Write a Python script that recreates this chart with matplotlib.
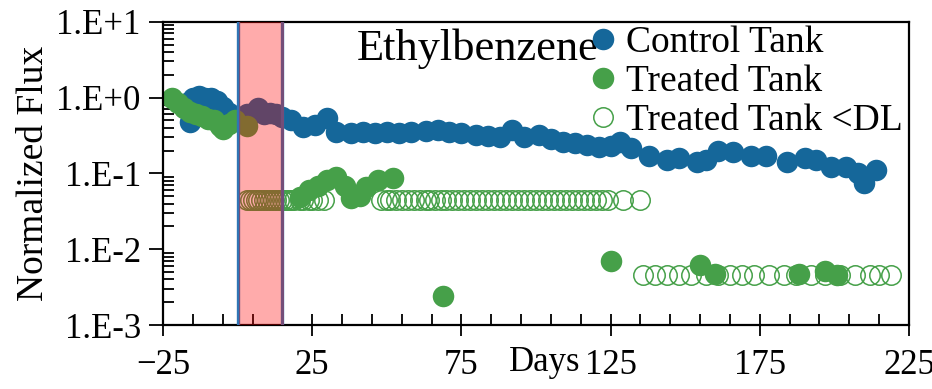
import matplotlib
matplotlib.use('Agg')
import matplotlib.pyplot as plt
from matplotlib.ticker import FuncFormatter, LogLocator, NullFormatter
import numpy as np

plt.rcParams['font.family'] = ['Liberation Serif', 'DejaVu Serif']

# Control tank flux (normalized)
ctrl_day = [-16, -17, -15, -13, -11, -9, -7, -5, -3, -1, 1, 3, 5, 7, 9, 11, 13, 15,
            18, 22, 26, 30, 33, 38, 42, 46, 50, 54, 58, 63, 67, 71, 75, 80, 84, 88,
            92, 96, 101, 105, 109, 113, 117, 121, 125, 128, 132, 138, 144, 148, 154,
            157, 161, 166, 172, 177, 184, 190, 194, 199, 204, 208, 210, 214]
ctrl_flux = [0.48, 0.85, 0.98, 1.05, 1.00, 1.00, 0.90, 0.75, 0.62, 0.55, 0.55, 0.60,
             0.62, 0.72, 0.60, 0.62, 0.60, 0.55, 0.50, 0.41, 0.43, 0.53, 0.35, 0.34,
             0.35, 0.34, 0.35, 0.34, 0.35, 0.36, 0.37, 0.35, 0.34, 0.32, 0.31, 0.30,
             0.37, 0.30, 0.32, 0.28, 0.26, 0.25, 0.24, 0.22, 0.23, 0.26, 0.215, 0.17,
             0.15, 0.16, 0.14, 0.15, 0.20, 0.19, 0.17, 0.17, 0.14, 0.16, 0.15, 0.12,
             0.12, 0.10, 0.075, 0.11]

# Treated tank flux above detection limit
trt_day = [-22, -20, -18, -16, -14, -12, -10, -8, -6, -5, -3, -1, 3,
           21, 24, 27, 30, 33, 36, 38, 41, 43, 47, 52,
           69, 125, 155, 160, 188, 197, 201]
trt_flux = [1.00, 0.85, 0.72, 0.65, 0.60, 0.57, 0.52, 0.50, 0.42, 0.38, 0.45, 0.50, 0.42,
            0.049, 0.060, 0.068, 0.081, 0.089, 0.068, 0.047, 0.050, 0.066, 0.081, 0.086,
            0.0024, 0.0070, 0.0062, 0.0047, 0.0047, 0.0052, 0.0046]

# Treated tank, below detection limit (plotted at the limit)
dl_day = [3, 4, 5, 6, 7, 8, 9, 10, 11, 12, 13, 14, 15, 16, 17, 18, 19, 21, 22, 24,
          25, 27, 29, 48, 50, 51, 53, 55, 57, 59, 61, 63, 64, 66, 68, 70, 72, 74,
          76, 78, 80, 82, 84, 86, 88, 90, 92, 94, 96, 98, 100, 102, 104, 106, 108,
          110, 112, 114, 116, 118, 120, 122, 124, 129, 135,
          136, 140, 144, 148, 152, 157, 161, 165, 169, 173, 178, 183, 187, 192,
          197, 202, 207, 212, 215, 219]
dl_flux = [0.045, 0.045, 0.045, 0.045, 0.045, 0.045, 0.045, 0.045, 0.045, 0.045,
           0.045, 0.045, 0.045, 0.045, 0.045, 0.045, 0.045, 0.045, 0.045, 0.045,
           0.045, 0.045, 0.045, 0.045, 0.045, 0.045, 0.045, 0.045, 0.045, 0.045,
           0.045, 0.045, 0.045, 0.045, 0.045, 0.045, 0.045, 0.045, 0.045, 0.045,
           0.045, 0.045, 0.045, 0.045, 0.045, 0.045, 0.045, 0.045, 0.045, 0.045,
           0.045, 0.045, 0.045, 0.045, 0.045, 0.045, 0.045, 0.045, 0.045, 0.045,
           0.045, 0.045, 0.045, 0.045, 0.045,
           0.0046, 0.0046, 0.0046, 0.0046, 0.0046, 0.0046, 0.0046, 0.0046, 0.0046,
           0.0046, 0.0046, 0.0046, 0.0046, 0.0046, 0.0046, 0.0046, 0.0046, 0.0046,
           0.0046, 0.0046]

# treatment window (days)
trt_start, trt_end = 0, 15

blue = '#15679A'
green = '#46A049'

fig = plt.figure(figsize=(9.32, 3.89), dpi=100)
ax = fig.add_axes([0.1749, 0.1645, 0.8004, 0.7797])

ax.plot(ctrl_day, ctrl_flux, 'o', ms=15.5, color=blue, mec='none', label='Control Tank')
ax.plot(trt_day, trt_flux, 'o', ms=15.5, color=green, mec='none', label='Treated Tank')
ax.plot(dl_day, dl_flux, 'o', ms=14, mfc='none', mec=green, mew=1.1,
        label='Treated Tank <DL')

ax.axvline(trt_start, color='#2F75B5', lw=2.4, zorder=4)
ax.axvline(trt_end, color='#2F75B5', lw=2.4, zorder=4)
ax.axvspan(trt_start + 0.5, trt_end + 0.5, color='red', alpha=0.33, lw=0, zorder=5)

ax.set_yscale('log')
ax.set_ylim(1e-3, 1e1)
ax.set_xlim(-25, 225)
ax.set_xticks([-25, 25, 75, 125, 175, 225])
ax.set_xticks([-15, -5, 5, 15, 35, 45, 55, 65, 85, 95, 105, 115, 135, 145,
               155, 165, 185, 195, 205, 215], minor=True)
ax.yaxis.set_major_locator(LogLocator(base=10, numticks=10))
ax.yaxis.set_minor_locator(LogLocator(base=10, subs=np.arange(2, 10), numticks=20))
ax.yaxis.set_minor_formatter(NullFormatter())
ax.yaxis.set_major_formatter(FuncFormatter(lambda v, p: '1.E%+d' % int(round(np.log10(v)))))

ax.tick_params(axis='both', which='major', labelsize=25, length=16, width=1.3,
               direction='inout', pad=9)
ax.tick_params(axis='y', which='major', direction='out', length=10, pad=6)
ax.tick_params(axis='both', which='minor', direction='in', length=8, width=1.3)
for s in ax.spines.values():
    s.set_linewidth(1.6)

ax.set_ylabel('Normalized Flux', fontsize=27, labelpad=4)
ax.text(103, -0.125, 'Days', transform=ax.get_xaxis_transform(), ha='center',
        va='center', fontsize=25)
ax.text(0.26, 0.91, 'Ethylbenzene', transform=ax.transAxes, fontsize=32,
        va='center', ha='left')

ax.legend(loc='upper left', bbox_to_anchor=(0.57, 1.0), frameon=False, fontsize=27,
          handlelength=0.6, handletextpad=0.3, labelspacing=0.12, borderpad=0.1,
          borderaxespad=0)

fig.savefig('out.png', dpi=100)
